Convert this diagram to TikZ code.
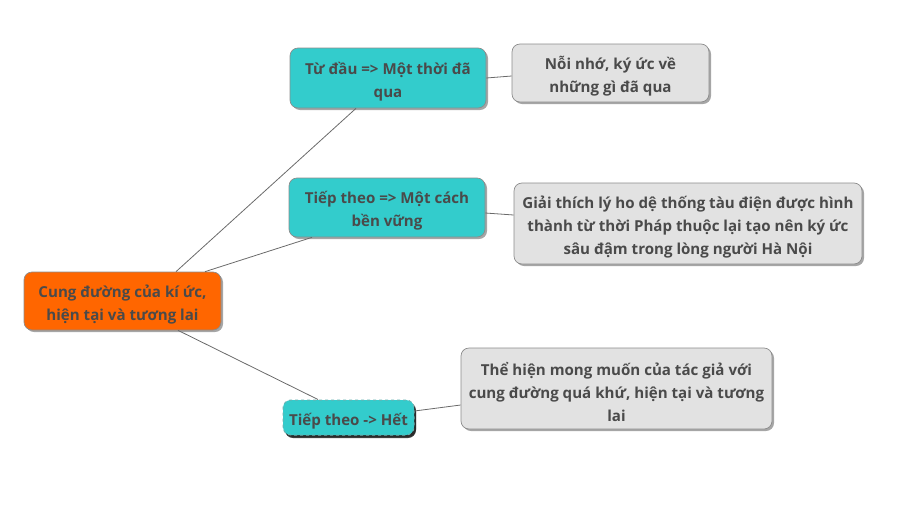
\documentclass[tikz,border=0pt]{standalone}
\usepackage{fontspec}
\setmainfont{Open Sans}
\usetikzlibrary{shadows}
\definecolor{rootfill}{HTML}{FF6600}
\definecolor{tealfill}{HTML}{33CCCC}
\definecolor{grayfill}{HTML}{E2E2E2}
\definecolor{txt}{HTML}{4A4A4A}
\definecolor{edge}{HTML}{6A6A6A}
\tikzset{
  box/.style={draw=black!45, line width=0.7pt, rounded corners=8pt, inner sep=0pt,
    drop shadow={shadow xshift=2pt, shadow yshift=-2pt, opacity=0.35, fill=black}},
  rootbox/.style={box, fill=rootfill},
  tealbox/.style={box, fill=tealfill},
  graybox/.style={box, fill=grayfill},
  selbox/.style={tealbox, dashed, line width=1pt, draw=teal!60,
    drop shadow={shadow xshift=2pt, shadow yshift=-3pt, opacity=0.75, fill=black}},
  txtnode/.style={align=center, text=txt, inner sep=0pt,
    font=\bfseries\fontsize{15.1}{23}\selectfont},
  link/.style={draw=edge, line width=0.8pt}
}
\begin{document}
\begin{tikzpicture}[x=1pt,y=-1pt]
\useasboundingbox (0,0) rectangle (900,512);
\node[rootbox, minimum width=197pt, minimum height=58pt] (root) at (122.5,301) {};
\node[tealbox, minimum width=196pt, minimum height=60pt] (a) at (388,78) {};
\node[tealbox, minimum width=196pt, minimum height=59pt] (b) at (387,207.5) {};
\node[selbox, minimum width=131pt, minimum height=35pt] (c) at (348.5,417.5) {};
\node[graybox, minimum width=197pt, minimum height=58pt] (ga) at (610.5,73) {};
\node[graybox, minimum width=348pt, minimum height=81pt] (gb) at (688,223.5) {};
\node[graybox, minimum width=311pt, minimum height=81pt] (gc) at (616.5,388.5) {};
\node[txtnode] (troot) at ([yshift=-3.5pt]root.center) {Cung đường của kí ức,\\hiện tại và tương lai};
\node[txtnode] (ta) at ([yshift=-3.5pt]a.center) {Từ đầu => Một thời đã\\qua};
\node[txtnode] (tb) at ([yshift=-3.5pt]b.center) {Tiếp theo => Một cách\\bền vững};
\node[txtnode] (tc) at ([yshift=-3.5pt]c.center) {Tiếp theo -> Hết};
\node[txtnode] (tga) at ([yshift=-3.5pt]ga.center) {Nỗi nhớ, ký ức về\\những gì đã qua};
\node[txtnode] (tgb) at ([yshift=-3.5pt]gb.center) {Giải thích lý ho dệ thống tàu điện được hình\\thành từ thời Pháp thuộc lại tạo nên ký ức\\sâu đậm trong lòng người Hà Nội};
\node[txtnode] (tgc) at ([yshift=-3.5pt]gc.center) {Thể hiện mong muốn của tác giả với\\cung đường quá khứ, hiện tại và tương\\lai};
\draw[link] ([xshift=53.5pt]root.north) -- ([xshift=-32pt]a.south);
\draw[link] ([xshift=82.5pt]root.north) -- ([xshift=-75pt]b.south);
\draw[link] ([xshift=55.5pt]root.south) -- ([xshift=-30.5pt]c.north);
\draw[link] (a.east) -- ([yshift=-3pt]ga.west);
\draw[link] ([yshift=-5.5pt]b.east) -- ([yshift=8.5pt]gb.west);
\draw[link] ([yshift=6.5pt]c.east) -- ([yshift=-16.5pt]gc.west);
\end{tikzpicture}
\end{document}
